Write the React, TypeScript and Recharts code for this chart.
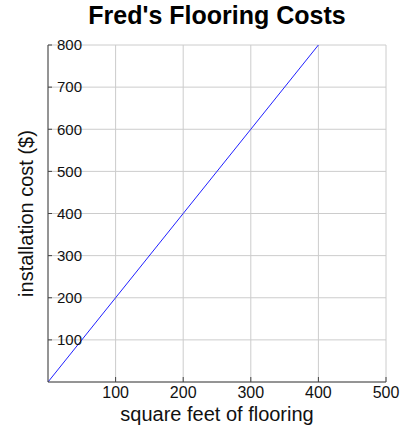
import React from 'react';
import { LineChart, Line, XAxis, YAxis, CartesianGrid, Label } from 'recharts';

const squareFeet = [0, 100, 200, 300, 400];
const installCost = [0, 200, 400, 600, 800];
const xTicks = [100, 200, 300, 400, 500];
const yTicks = [100, 200, 300, 400, 500, 600, 700, 800];

const data = squareFeet.map((sqft, i) => ({ sqft, cost: installCost[i] }));

const FONT = '"Liberation Sans", Arial, sans-serif';

const XTick = (props: any) => {
  const { x, y, payload } = props;
  return (
    <g>
      <line x1={x} y1={y - 5} x2={x} y2={y} stroke="#444" />
      <text x={x} y={y + 16} textAnchor="middle" fontSize={16} fill="#111" fontFamily={FONT}>
        {payload.value}
      </text>
    </g>
  );
};

const App: React.FC = () => {
  return (
    <div style={{ position: 'absolute', left: 0, top: 0, width: 403, height: 425, background: '#fff' }}>
      <LineChart width={403} height={425} data={data} margin={{ top: 45, right: 17, bottom: 42, left: 48 }}>
        <text x={217} y={24} textAnchor="middle" fontSize={25} fontWeight="bold" fill="#000" fontFamily={FONT}>
          Fred's Flooring Costs
        </text>
        <CartesianGrid stroke="#cccccc" />
        <XAxis
          type="number"
          dataKey="sqft"
          domain={[0, 500]}
          ticks={xTicks}
          height={1}
          tickSize={0}
          tickMargin={0}
          tickLine={false}
          tick={<XTick />}
          axisLine={{ stroke: '#444' }}
          interval={0}
        >
          <Label value="square feet of flooring" position="bottom" offset={24} fontSize={20} fill="#111" fontFamily={FONT} />
        </XAxis>
        <YAxis
          type="number"
          domain={[0, 800]}
          ticks={yTicks}
          width={1}
          mirror
          tickSize={4}
          tickMargin={5}
          axisLine={{ stroke: '#444' }}
          tickLine={{ stroke: '#444' }}
          tick={{ fontSize: 15, fill: '#111', fontFamily: FONT }}
          interval={0}
        >
          <Label
            value="installation cost ($)"
            angle={-90}
            position="left"
            offset={22}
            fontSize={20}
            fill="#111"
            fontFamily={FONT}
            style={{ textAnchor: 'middle' }}
          />
        </YAxis>
        <Line type="linear" dataKey="cost" stroke="#2020ff" strokeWidth={1} dot={false} isAnimationActive={false} />
      </LineChart>
    </div>
  );
};

export default App;
